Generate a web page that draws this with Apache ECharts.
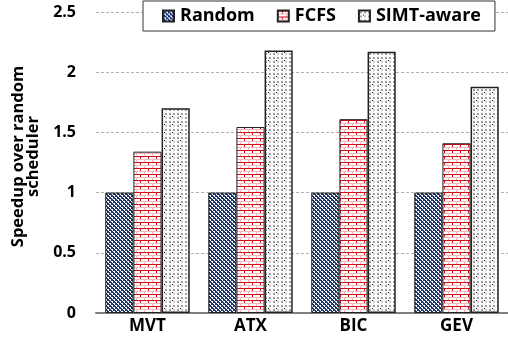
<!DOCTYPE html>
<html><head><meta charset="utf-8">
<script src="https://cdn.jsdelivr.net/npm/echarts@6/dist/echarts.min.js"></script>
<style>html,body{margin:0;padding:0;background:#fff}#c{width:508px;height:341px}</style>
</head><body><div id="c"></div>
<script>
const categories = ['MVT', 'ATX', 'BIC', 'GEV'];
const seriesNames = ['Random', 'FCFS', 'SIMT-aware'];
const randomVals = [1, 1, 1, 1];
const fcfsVals = [1.34, 1.545, 1.61, 1.41];
const simtVals = [1.70, 2.18, 2.17, 1.88];
const yTicks = [0, 0.5, 1, 1.5, 2, 2.5];

function tile(w, h, draw) {
  const c = document.createElement('canvas');
  c.width = w; c.height = h;
  const g = c.getContext('2d');
  draw(g);
  return { image: c, repeat: 'repeat' };
}
const patRandom = tile(8, 8, g => {
  g.fillStyle = '#1c3468'; g.fillRect(0, 0, 8, 8);
  g.fillStyle = '#ffffff';
  for (let y = 0; y < 8; y++) {
    for (let x = 0; x < 8; x++) {
      const d = (x - y + 16) % 4;
      if (d === 2 || (d === 3 && (x + y) % 4 === 1)) g.fillRect(x, y, 1, 1);
    }
  }
});
const patFcfs = tile(8, 6, g => {
  g.fillStyle = '#ffffff'; g.fillRect(0, 0, 8, 6);
  g.fillStyle = '#d0101a';
  g.fillRect(0, 0, 8, 1);
  g.fillRect(4, 1, 1, 2);
  g.fillStyle = '#f2b8bc';
  g.fillRect(0, 3, 8, 1);
  g.fillRect(0, 4, 1, 2);
});
const patSimt = tile(8, 8, g => {
  g.fillStyle = '#ffffff'; g.fillRect(0, 0, 8, 8);
  g.fillStyle = '#a0a0a0';
  g.fillRect(1, 1, 2, 2); g.fillRect(5, 1, 2, 2);
  g.fillRect(1, 5, 2, 2);
  g.fillStyle = '#c8c8c8';
  g.fillRect(5, 5, 2, 2);
  g.fillStyle = '#000000';
  g.fillRect(4, 4, 1, 1);
});

const FONT = '"Open Sans", sans-serif';
const chart = echarts.init(document.getElementById('c'), null, { renderer: 'canvas' });
const mk = (name, data, pat, bw) => ({
  name, type: 'bar', data,
  barGap: '0%', barCategoryGap: '18%',
  itemStyle: { color: pat, borderColor: '#222', borderWidth: bw },
  emphasis: { disabled: true }
});
chart.setOption({
  animation: false,
  backgroundColor: '#fff',
  grid: { left: 96, right: 0, top: 12, bottom: 28, containLabel: false },
  legend: {
    left: 143, top: 1,
    width: 347,
    padding: [6, 14, 6, 19],
    itemWidth: 11, itemHeight: 11, itemGap: 22,
    borderColor: '#333', borderWidth: 1,
    backgroundColor: '#fff',
    textStyle: { fontFamily: FONT, fontWeight: 'bold', fontSize: 18, color: '#000', padding: [0, 0, 0, 1] },
    data: seriesNames.map(n => ({ name: n, icon: 'rect' }))
  },
  xAxis: {
    type: 'category', data: categories,
    axisTick: { show: false },
    axisLine: { lineStyle: { color: '#808080', width: 2 } },
    axisLabel: { fontFamily: FONT, fontWeight: 'bold', fontSize: 17, color: '#000', margin: 5 }
  },
  yAxis: {
    type: 'value', min: yTicks[0], max: yTicks[yTicks.length - 1], interval: 0.5,
    name: 'Speedup over random\nscheduler',
    nameLocation: 'middle', nameGap: 37, nameRotate: 90,
    nameTextStyle: { fontFamily: FONT, fontWeight: 'bold', fontSize: 16.5, color: '#000', lineHeight: 15, padding: [0, 0, 0, 12] },
    axisLine: { show: false }, axisTick: { show: false },
    axisLabel: { fontFamily: FONT, fontWeight: 'bold', fontSize: 16, color: '#000', margin: 20 },
    splitLine: { lineStyle: { color: '#b0b0b0', type: [3, 2], width: 1 } }
  },
  series: [
    mk(seriesNames[0], randomVals, patRandom, 1),
    mk(seriesNames[1], fcfsVals, patFcfs, 1),
    mk(seriesNames[2], simtVals, patSimt, 1.5)
  ]
});
</script></body></html>
